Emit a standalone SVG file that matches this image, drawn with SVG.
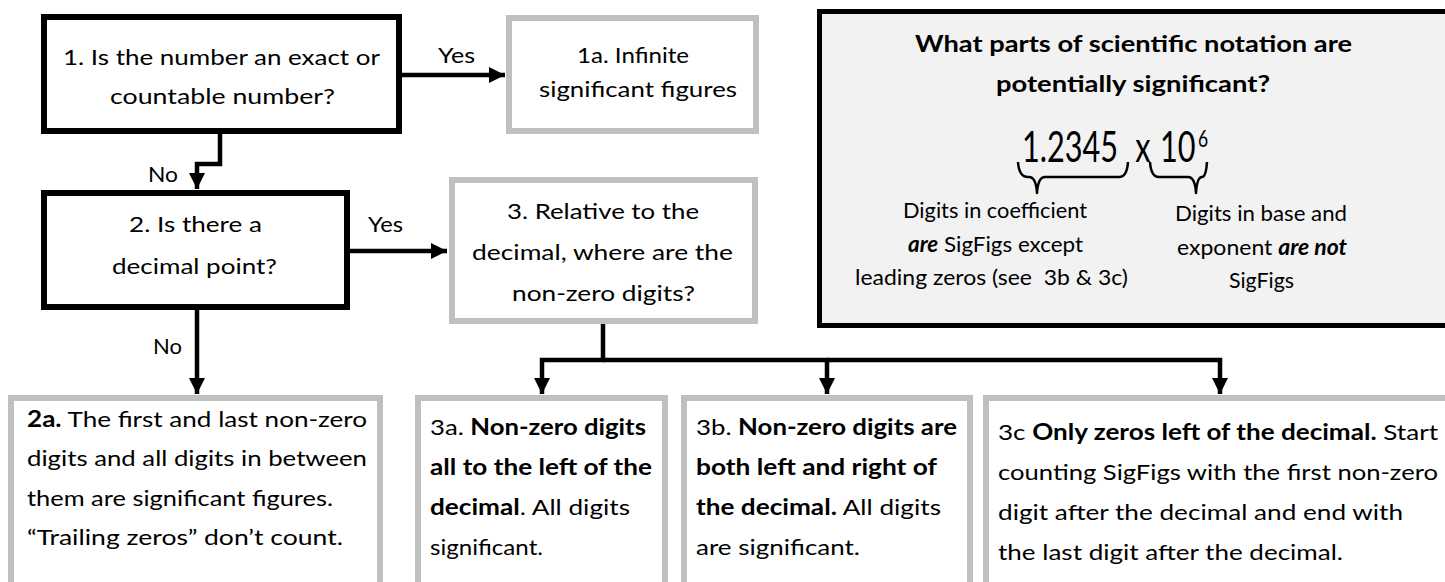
<svg xmlns="http://www.w3.org/2000/svg" width="1445" height="582" viewBox="0 0 1445 582">
<style>
text{font-family:Lato,"Liberation Sans",sans-serif;font-size:22px;fill:#000}
.b{font-weight:bold}
.bi{font-weight:bold;font-style:italic}
.q{fill:#fff;stroke:#000;stroke-width:6}
.g{fill:#fff;stroke:#bfbfbf;stroke-width:6}
.c{fill:none;stroke:#000;stroke-width:4.5;stroke-linejoin:miter}
.br{fill:none;stroke:#000;stroke-width:2.5;stroke-linejoin:round}
</style>
<defs>
<marker id="ah" markerUnits="userSpaceOnUse" markerWidth="18" markerHeight="18" refX="16" refY="8" orient="auto">
<path d="M0,0 L16,8 L0,16 z" fill="#000"/>
</marker>
</defs>
<rect width="1445" height="582" fill="#fff"/>

<g id="connectors">
<path class="c" d="M402,75 H505" marker-end="url(#ah)"/>
<path class="c" d="M220,134 V164 H197 V189" marker-end="url(#ah)"/>
<path class="c" d="M350,251 H447" marker-end="url(#ah)"/>
<path class="c" d="M197,310 V394" marker-end="url(#ah)"/>
<path class="c" d="M603,324 V360 H542 V394" marker-end="url(#ah)"/>
<path class="c" d="M603,360 H827 V394" marker-end="url(#ah)"/>
<path class="c" d="M827,360 H1220 V394" marker-end="url(#ah)"/>
<text x="438" y="63" textLength="37" lengthAdjust="spacingAndGlyphs">Yes</text>
<text x="148" y="182" textLength="30" lengthAdjust="spacingAndGlyphs">No</text>
<text x="368" y="232" textLength="35" lengthAdjust="spacingAndGlyphs">Yes</text>
<text x="153" y="354" textLength="29" lengthAdjust="spacingAndGlyphs">No</text>
</g>

<g id="node1">
<rect class="q" x="44" y="17" width="355" height="114"/>
<text x="63" y="65" textLength="317" lengthAdjust="spacingAndGlyphs">1. Is the number an exact or</text>
<text x="110" y="104" textLength="225" lengthAdjust="spacingAndGlyphs">countable number?</text>
</g>

<g id="node1a">
<rect class="g" x="509" y="18" width="247" height="113"/>
<text x="577" y="63" textLength="112" lengthAdjust="spacingAndGlyphs">1a. Infinite</text>
<text x="539" y="97" textLength="198" lengthAdjust="spacingAndGlyphs">significant figures</text>
</g>

<g id="node2">
<rect class="q" x="44" y="193" width="303" height="114"/>
<text x="129" y="232" textLength="133" lengthAdjust="spacingAndGlyphs">2. Is there a</text>
<text x="112" y="274" textLength="165" lengthAdjust="spacingAndGlyphs">decimal point?</text>
</g>

<g id="node3">
<rect class="g" x="452" y="180" width="303" height="141"/>
<text x="507" y="219" textLength="192" lengthAdjust="spacingAndGlyphs">3. Relative to the</text>
<text x="472" y="260" textLength="261" lengthAdjust="spacingAndGlyphs">decimal, where are the</text>
<text x="512" y="301" textLength="183" lengthAdjust="spacingAndGlyphs">non-zero digits?</text>
</g>

<g id="summary">
<rect x="819.5" y="11.5" width="640" height="314" fill="#f2f2f2" stroke="#000" stroke-width="5"/>
<text class="b" x="915" y="52" textLength="437" lengthAdjust="spacingAndGlyphs">What parts of scientific notation are</text>
<text class="b" x="996" y="92" textLength="274" lengthAdjust="spacingAndGlyphs">potentially significant?</text>
<text transform="matrix(0.73 0 0 1 0 0)" style="font-size:42px"><tspan x="1400" y="162">1.2345</tspan><tspan x="1555" y="162">x</tspan><tspan x="1589" y="162">10</tspan><tspan x="1641" y="147" style="font-size:24px">6</tspan></text>
<path class="br" d="M1018,162 Q1019,177 1028,177 L1029,177 Q1036,177 1037,193 Q1038,177 1045,177 L1119,177 Q1127,177 1128,162"/>
<path class="br" d="M1150,162 Q1151,177 1159,177 L1188,177 Q1195,177 1196,193 Q1197,177 1202,177 Q1206,177 1207,162"/>
<text x="903" y="218" textLength="184" lengthAdjust="spacingAndGlyphs">Digits in coefficient</text>
<text x="908" y="252" textLength="175" lengthAdjust="spacingAndGlyphs"><tspan class="bi">are</tspan> SigFigs except</text>
<text x="855" y="285" style="white-space:pre" textLength="273" lengthAdjust="spacingAndGlyphs">leading zeros (see  3b &amp; 3c)</text>
<text x="1175" y="221" textLength="172" lengthAdjust="spacingAndGlyphs">Digits in base and</text>
<text x="1177" y="255" textLength="170" lengthAdjust="spacingAndGlyphs">exponent <tspan class="bi">are not</tspan></text>
<text x="1229" y="288" textLength="65" lengthAdjust="spacingAndGlyphs">SigFigs</text>
</g>

<g id="node2a">
<rect class="g" x="11" y="398" width="369" height="220"/>
<text x="27" y="427" textLength="340" lengthAdjust="spacingAndGlyphs"><tspan class="b">2a.</tspan> The first and last non-zero</text>
<text x="27" y="466" textLength="340" lengthAdjust="spacingAndGlyphs">digits and all digits in between</text>
<text x="27" y="506" textLength="306" lengthAdjust="spacingAndGlyphs">them are significant figures.</text>
<text x="27" y="545" textLength="316" lengthAdjust="spacingAndGlyphs">“Trailing zeros” don’t count.</text>
</g>

<g id="node3a">
<rect class="g" x="418" y="398" width="247" height="220"/>
<text x="430" y="435" textLength="216" lengthAdjust="spacingAndGlyphs">3a. <tspan class="b">Non-zero digits</tspan></text>
<text class="b" x="430" y="475" textLength="222" lengthAdjust="spacingAndGlyphs">all to the left of the</text>
<text x="430" y="515" textLength="200" lengthAdjust="spacingAndGlyphs"><tspan class="b">decimal</tspan>. All digits</text>
<text x="430" y="555" textLength="113" lengthAdjust="spacingAndGlyphs">significant.</text>
</g>

<g id="node3b">
<rect class="g" x="684" y="398" width="286" height="220"/>
<text x="696" y="435" textLength="261" lengthAdjust="spacingAndGlyphs">3b. <tspan class="b">Non-zero digits are</tspan></text>
<text class="b" x="696" y="475" textLength="241" lengthAdjust="spacingAndGlyphs">both left and right of</text>
<text x="696" y="515" textLength="245" lengthAdjust="spacingAndGlyphs"><tspan class="b">the decimal.</tspan> All digits</text>
<text x="696" y="555" textLength="164" lengthAdjust="spacingAndGlyphs">are significant.</text>
</g>

<g id="node3c">
<rect class="g" x="986" y="398" width="500" height="220"/>
<text x="998" y="440" textLength="440" lengthAdjust="spacingAndGlyphs">3c <tspan class="b">Only zeros left of the decimal.</tspan> Start</text>
<text x="998" y="480" textLength="440" lengthAdjust="spacingAndGlyphs">counting SigFigs with the first non-zero</text>
<text x="998" y="520" textLength="405" lengthAdjust="spacingAndGlyphs">digit after the decimal and end with</text>
<text x="998" y="560" textLength="345" lengthAdjust="spacingAndGlyphs">the last digit after the decimal.</text>
</g>
</svg>
